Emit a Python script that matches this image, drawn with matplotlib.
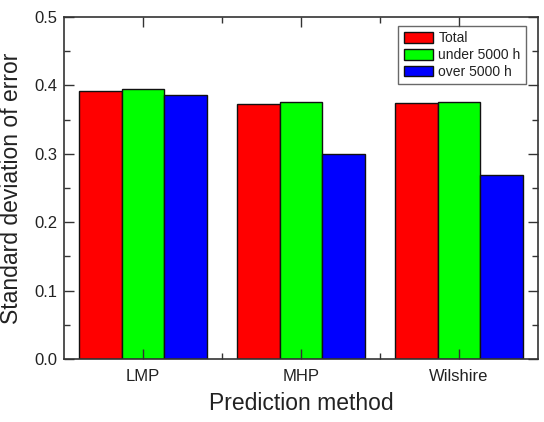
import matplotlib
matplotlib.use("Agg")
import matplotlib.pyplot as plt
import numpy as np
from matplotlib.ticker import FixedLocator, MultipleLocator

plt.rcParams['font.family'] = ['Liberation Sans', 'DejaVu Sans']

methods = ["LMP", "MHP", "Wilshire"]
series_names = ["Total", "under 5000 h", "over 5000 h"]
total = [0.392, 0.373, 0.374]
under_5000 = [0.395, 0.375, 0.375]
over_5000 = [0.386, 0.300, 0.269]
colors = ["#FF0000", "#00FF00", "#0000FF"]

fig = plt.figure(figsize=(5.44, 4.22), dpi=100)
ax = fig.add_axes([0.1176, 0.149, 0.989 - 0.1176, 0.960 - 0.149])

x = np.arange(1, len(methods) + 1)
w = 0.268
for i, (vals, name, c) in enumerate(zip([total, under_5000, over_5000], series_names, colors)):
    ax.bar(x + (i - 1) * w, vals, width=w, color=c, edgecolor="#111111",
           linewidth=1.0, label=name)

ax.set_xlim(0.5, 3.5)
ax.set_ylim(0, 0.5)
ax.set_xticks(x)
ax.set_xticklabels(methods)
ax.xaxis.set_minor_locator(FixedLocator([1.5, 2.5]))
ax.yaxis.set_major_locator(MultipleLocator(0.1))
ax.yaxis.set_minor_locator(MultipleLocator(0.05))
ax.yaxis.set_major_formatter(matplotlib.ticker.FormatStrFormatter('%.1f'))

ax.tick_params(which='both', direction='in', top=True, right=True, color='#333333')
ax.tick_params(which='major', length=7, width=1.0)
ax.tick_params(which='minor', length=4, width=1.0)
ax.tick_params(axis='x', which='major', labelsize=12, pad=7, labelcolor='#222222')
ax.tick_params(axis='y', which='major', labelsize=12, pad=5, labelcolor='#222222')

for s in ax.spines.values():
    s.set_color('#333333')
    s.set_linewidth(1.2)

ax.set_xlabel("Prediction method", fontsize=16.5, color='#222222', labelpad=6)
ax.set_ylabel("Standard deviation of error", fontsize=16.5, color='#222222', labelpad=8)

leg = ax.legend(loc='upper right', bbox_to_anchor=(0.975, 0.974), borderaxespad=0,
                fontsize=10, handlelength=2.1, handleheight=0.8, labelspacing=0.2,
                handletextpad=0.4, borderpad=0.4, fancybox=False, frameon=True)
leg.get_frame().set_edgecolor('#444444')
leg.get_frame().set_linewidth(1.0)
for t in leg.get_texts():
    t.set_color('#222222')

fig.savefig("out.png", dpi=100)
